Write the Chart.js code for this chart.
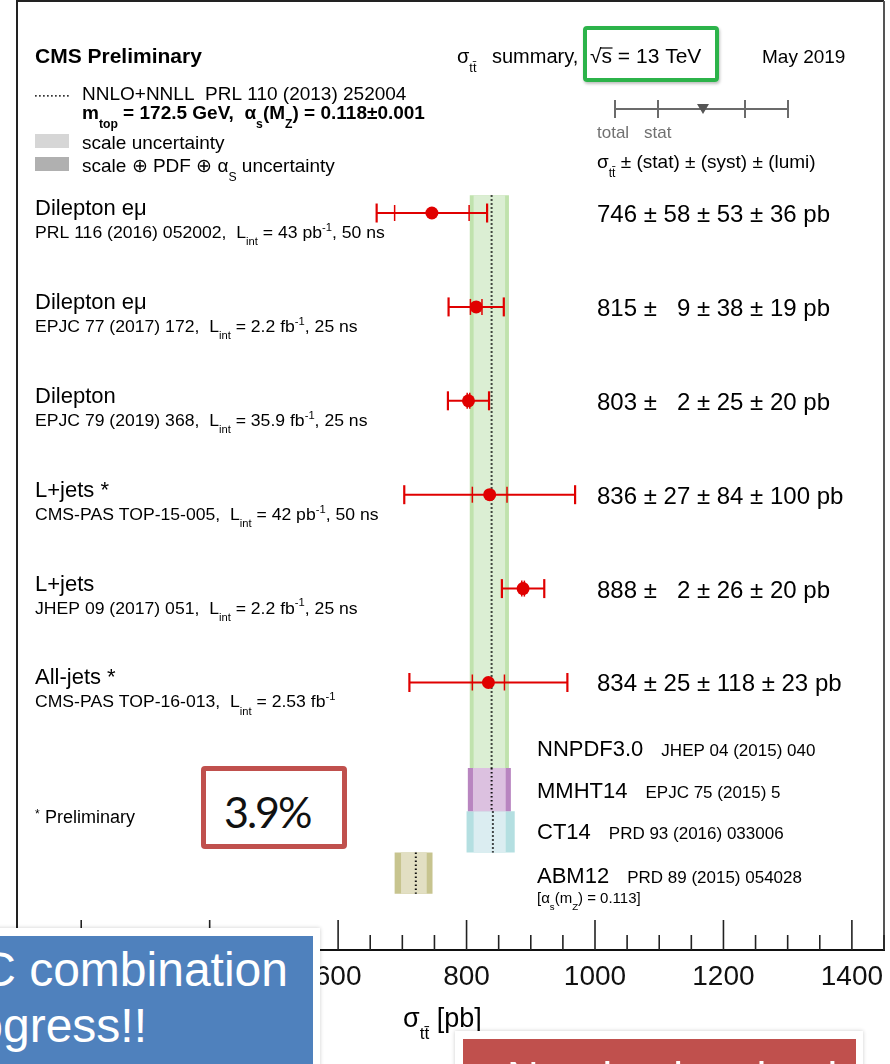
<!DOCTYPE html>
<html>
<head>
<meta charset="utf-8">
<script src="https://cdn.jsdelivr.net/npm/chart.js@4.4.1/dist/chart.umd.min.js"></script>
<style>
  html, body { margin: 0; padding: 0; background: #fff; }
  body { width: 890px; height: 1064px; position: relative; overflow: hidden; font-family: "Liberation Sans", Arial, sans-serif; }
  #Grafico { position: absolute; left: 0; top: 0; }
  #energia { position: absolute; left: 583px; top: 26px; width: 136px; height: 56px; box-sizing: border-box;
             border: 4px solid #2cb34a; border-radius: 4px; box-shadow: 1px 2px 3px rgba(0,0,0,0.25); }
  #precision { position: absolute; left: 201px; top: 766px; width: 146px; height: 83px; box-sizing: border-box;
               border: 5px solid #c0504d; border-radius: 4px; background: #fff; padding: 19px 0 0 18px;
               font-family: Lato, "Open Sans", sans-serif; font-size: 43px; line-height: 1; letter-spacing: -2px; color: #111; }
  #marcoAzul { position: absolute; left: -20px; top: 928px; width: 340px; height: 160px; background: #fff; box-shadow: 0 0 4px rgba(0,0,0,0.2); }
  #azul { position: absolute; left: 0; top: 8px; width: 333px; height: 150px; background: #4f81bd; }
  #marcoRojo { position: absolute; left: 455px; top: 1031px; width: 408px; height: 60px; background: #fff; box-shadow: 0 0 4px rgba(0,0,0,0.2); }
  #rojo { position: absolute; left: 8px; top: 8px; width: 393px; height: 50px; background: #c0504d; }
  .linea { position: absolute; white-space: nowrap; color: #fff; font-size: 48px; line-height: 1; }
</style>
</head>
<body>
<canvas id="Grafico" width="890" height="1064"></canvas>
<div id="energia"></div>
<div id="precision">3.9%</div>
<div id="marcoAzul"><div id="azul">
  <span class="linea" style="right:25px; top:10px;">LHC combination</span>
  <span class="linea" style="right:166px; top:66px;">in progress!!</span>
</div></div>
<div id="marcoRojo"><div id="rojo">
  <span class="linea" style="left:44px; top:17px; font-size:44px;">Need to be checked</span>
</div></div>
<script>
//Medidas de la sección eficaz ttbar a 13 TeV (pb)
const canales = ['Dilepton eμ', 'Dilepton eμ', 'Dilepton', 'L+jets *', 'L+jets', 'All-jets *'];
const referencias = [
  'PRL 116 (2016) 052002,  L_{int} = 43 pb^{-1}, 50 ns',
  'EPJC 77 (2017) 172,  L_{int} = 2.2 fb^{-1}, 25 ns',
  'EPJC 79 (2019) 368,  L_{int} = 35.9 fb^{-1}, 25 ns',
  'CMS-PAS TOP-15-005,  L_{int} = 42 pb^{-1}, 50 ns',
  'JHEP 09 (2017) 051,  L_{int} = 2.2 fb^{-1}, 25 ns',
  'CMS-PAS TOP-16-013,  L_{int} = 2.53 fb^{-1}'
];
const xsec = [746, 815, 803, 836, 888, 834];
const stat = [58, 9, 2, 27, 2, 25];
const syst = [53, 38, 25, 84, 26, 118];
const lumi = [36, 19, 20, 100, 20, 23];
const total = [86, 43, 32, 133, 33, 123]; //error total

//Predicciones teóricas NNLO+NNLL por PDF
const pdfs = ['NNPDF3.0', 'MMHT14', 'CT14', 'ABM12'];
const pdfRefs = ['JHEP 04 (2015) 040', 'EPJC 75 (2015) 5', 'PRD 93 (2016) 033006', 'PRD 89 (2015) 054028'];
const teoCentral = [839, 839, 841, 721];
const teoEscalaLo = [811, 810, 811, 698];
const teoEscalaHi = [860, 861, 861, 738];
const teoTotalLo = [805, 802, 800, 688];
const teoTotalHi = [866, 869, 875, 747];

//Etiquetas del eje x
const ticksMayores = [200, 400, 600, 800, 1000, 1200, 1400];

//Posiciones verticales (unidades de fila)
const filas = [1, 2, 3, 4, 5, 6];
const bandaArriba = [0.81, 6.91, 7.37, 7.81];
const bandaAbajo = [6.91, 7.37, 7.81, 8.25];
const filaTextoPdf = [6.78, 7.23, 7.67, 8.14];

const ROJO = '#e00000';
const FUENTE = '"Liberation Sans", Arial, Helvetica, sans-serif';
const coloresBorde = ['#c0e2ad', '#b885c0', '#b4dfe1', '#c7c48f'];
const coloresRelleno = ['#dbeed3', '#dcc1e0', '#dbedf1', '#e2dfc3'];

//Texto con subíndices _{..} y superíndices ^{..}; sx = estiramiento horizontal
function texto(ctx, str, x, y, size, opt = {}) {
  const re = /([_^])\{([^}]*)\}|([^_^]+)/g;
  const sx = opt.sx || 1;
  let m;
  ctx.textBaseline = 'alphabetic';
  ctx.textAlign = 'left';
  ctx.fillStyle = opt.color || '#000';
  while ((m = re.exec(str)) !== null) {
    let t = m[3], s = size, dy = 0;
    if (m[1]) {
      t = m[2];
      s = size * 0.64;
      dy = m[1] === '_' ? size * 0.45 : -size * 0.45;
    }
    ctx.font = (opt.bold ? 'bold ' : '') + s.toFixed(1) + 'px ' + FUENTE;
    ctx.save();
    ctx.translate(x, y + dy);
    ctx.scale(sx, 1);
    ctx.fillText(t, 0, 0);
    ctx.restore();
    x += ctx.measureText(t).width * sx;
  }
  return x;
}

const rect = (lo, hi, top, bot) => [
  {x: lo, y: top}, {x: hi, y: top}, {x: hi, y: bot}, {x: lo, y: bot}, {x: lo, y: top}
];

//Construir datasets
const datasets = [];
pdfs.forEach((p, i) => {
  datasets.push({
    type: 'line', data: rect(teoTotalLo[i], teoTotalHi[i], bandaArriba[i], bandaAbajo[i]),
    backgroundColor: coloresBorde[i], borderColor: 'rgba(0,0,0,0)', borderWidth: 0,
    pointRadius: 0, fill: 'shape', order: 30
  });
  datasets.push({
    type: 'line', data: rect(teoEscalaLo[i], teoEscalaHi[i], bandaArriba[i], bandaAbajo[i]),
    backgroundColor: coloresRelleno[i], borderColor: 'rgba(0,0,0,0)', borderWidth: 0,
    pointRadius: 0, fill: 'shape', order: 29
  });
  datasets.push({
    type: 'line', data: [{x: teoCentral[i], y: bandaArriba[i]}, {x: teoCentral[i], y: bandaAbajo[i]}],
    borderColor: '#111', borderWidth: 2, borderDash: [1.6, 2.4], pointRadius: 0, fill: false, order: 20
  });
});
xsec.forEach((v, i) => {
  datasets.push({
    type: 'line', data: [{x: v - total[i], y: filas[i]}, {x: v + total[i], y: filas[i]}],
    borderColor: ROJO, borderWidth: 2, pointRadius: 0, fill: false, order: 10
  });
});
datasets.push({
  type: 'scatter', data: xsec.flatMap((v, i) => [{x: v - total[i], y: filas[i]}, {x: v + total[i], y: filas[i]}]),
  pointStyle: 'line', pointRotation: 90, pointRadius: 9.5, pointBorderColor: ROJO, pointBorderWidth: 2.2, order: 9
});
datasets.push({
  type: 'scatter', data: xsec.flatMap((v, i) => [{x: v - stat[i], y: filas[i]}, {x: v + stat[i], y: filas[i]}]),
  pointStyle: 'line', pointRotation: 90, pointRadius: 8, pointBorderColor: ROJO, pointBorderWidth: 1.5, order: 8
});
datasets.push({
  type: 'scatter', data: xsec.map((v, i) => ({x: v, y: filas[i]})),
  pointStyle: 'circle', pointRadius: 6.5, pointBackgroundColor: ROJO, pointBorderWidth: 0, order: 1
});

//Marco, ticks interiores y textos
const decoracion = {
  id: 'decoracion',
  afterDraw(chart) {
    const ctx = chart.ctx;
    const a = chart.chartArea;
    const xs = chart.scales.x, ys = chart.scales.y;
    ctx.save();

    //marco
    ctx.lineWidth = 2;
    ctx.strokeStyle = '#222';
    ctx.beginPath();
    ctx.moveTo(a.left, a.bottom); ctx.lineTo(a.left, a.top); ctx.lineTo(a.right, a.top);
    ctx.stroke();
    ctx.strokeStyle = '#555';
    ctx.beginPath();
    ctx.moveTo(a.right, a.top); ctx.lineTo(a.right, a.bottom);
    ctx.stroke();

    //ticks hacia dentro
    ctx.strokeStyle = '#222';
    ctx.lineWidth = 1.6;
    for (let v = 150; v <= 1450; v += 50) {
      const px = xs.getPixelForValue(v);
      const largo = ticksMayores.includes(v) ? 30 : 15;
      ctx.beginPath();
      ctx.moveTo(px, a.bottom); ctx.lineTo(px, a.bottom - largo);
      ctx.stroke();
    }

    //leyenda superior izquierda
    texto(ctx, 'CMS Preliminary', 35, 63, 21, {bold: true});
    ctx.fillStyle = '#333';
    for (let x = 35; x < 68; x += 4) ctx.fillRect(x, 95, 1.7, 1.7);
    texto(ctx, 'NNLO+NNLL  PRL 110 (2013) 252004', 82, 100, 19);
    texto(ctx, 'm_{top} = 172.5 GeV,  α_{s}(M_{Z}) = 0.118±0.001', 82, 119, 19, {bold: true});
    ctx.fillStyle = '#d6d6d6'; ctx.fillRect(35, 134, 34, 14);
    texto(ctx, 'scale uncertainty', 82, 149, 19);
    ctx.fillStyle = '#b0b0b0'; ctx.fillRect(35, 157, 34, 14);
    texto(ctx, 'scale ⊕ PDF ⊕ α_{S} uncertainty', 82, 172, 19);

    //cabecera derecha
    texto(ctx, 'σ_{tt̄}', 457, 63, 20);
    texto(ctx, 'summary,', 492, 63, 20);
    ctx.font = '20px ' + FUENTE;
    const wr = ctx.measureText('√').width * 1.05;
    texto(ctx, '√s = 13 TeV', 590, 63, 20, {sx: 1.05});
    ctx.strokeStyle = '#000'; ctx.lineWidth = 1.2;
    ctx.beginPath(); ctx.moveTo(590 + wr - 1, 48); ctx.lineTo(590 + wr + 11, 48); ctx.stroke();
    texto(ctx, 'May 2019', 762, 63, 19);

    //clave del error (total / stat)
    ctx.strokeStyle = '#6b6b6b'; ctx.lineWidth = 2;
    ctx.beginPath(); ctx.moveTo(615, 109); ctx.lineTo(788, 109); ctx.stroke();
    [615, 658, 745, 788].forEach(x => {
      ctx.beginPath(); ctx.moveTo(x, 100); ctx.lineTo(x, 118); ctx.stroke();
    });
    ctx.fillStyle = '#555';
    ctx.beginPath(); ctx.moveTo(697, 104); ctx.lineTo(709, 104); ctx.lineTo(703, 114); ctx.closePath(); ctx.fill();
    texto(ctx, 'total', 597, 138, 17, {color: '#707070'});
    texto(ctx, 'stat', 644, 138, 17, {color: '#707070'});
    texto(ctx, 'σ_{tt̄} ± (stat) ± (syst) ± (lumi)', 597, 168, 19);

    //etiquetas de cada medida
    const fig = n => (n < 10 ? '\u2007' + n : String(n));
    xsec.forEach((v, i) => {
      const yp = ys.getPixelForValue(filas[i]);
      texto(ctx, canales[i], 35, yp + 2, 22);
      texto(ctx, referencias[i], 35, yp + 25, 16, {sx: 1.1});
      texto(ctx, v + ' ± ' + fig(stat[i]) + ' ± ' + fig(syst[i]) + ' ± ' + fig(lumi[i]) + ' pb', 597, yp + 9, 24);
    });

    //etiquetas de las PDF
    pdfs.forEach((p, i) => {
      const yp = ys.getPixelForValue(filaTextoPdf[i]);
      const xf = texto(ctx, p, 537, yp, 22);
      texto(ctx, pdfRefs[i], xf + 18, yp, 17);
    });
    const yAbm = ys.getPixelForValue(filaTextoPdf[3]) + 20;
    texto(ctx, '[α_{s}(m_{Z}) = 0.113]', 537, yAbm, 15);

    //notas
    texto(ctx, '*', 35, 818, 12);
    texto(ctx, 'Preliminary', 45, 823, 18);
    texto(ctx, 'σ_{tt̄} [pb]', 403, 1027, 27);
    ctx.restore();
  }
};

//Crear el gráfico
const contexto = document.getElementById('Grafico').getContext('2d');
const Grafico = new Chart(contexto, {
  type: 'scatter',
  data: { datasets: datasets },
  options: {
    responsive: false,
    maintainAspectRatio: false,
    devicePixelRatio: 1,
    animation: false,
    events: [],
    layout: { autoPadding: false, padding: { left: 17, right: 6, top: 1, bottom: 0 } },
    plugins: { legend: { display: false }, tooltip: { enabled: false } },
    scales: {
      x: {
        type: 'linear', position: 'bottom', min: 100, max: 1450,
        afterBuildTicks: s => { s.ticks = ticksMayores.map(v => ({ value: v })); },
        afterFit: s => { s.height = 114; s.paddingLeft = 0; s.paddingRight = 0; },
        grid: { display: true, drawOnChartArea: false, drawTicks: false },
        border: { display: true, color: '#111', width: 2 },
        ticks: {
          font: { family: FUENTE, size: 28 }, color: '#111', padding: 10,
          maxRotation: 0, autoSkip: false, callback: v => String(v)
        }
      },
      y: { type: 'linear', min: -1.258, max: 8.849, reverse: true, display: false }
    }
  },
  plugins: [decoracion]
});
</script>
</body>
</html>
